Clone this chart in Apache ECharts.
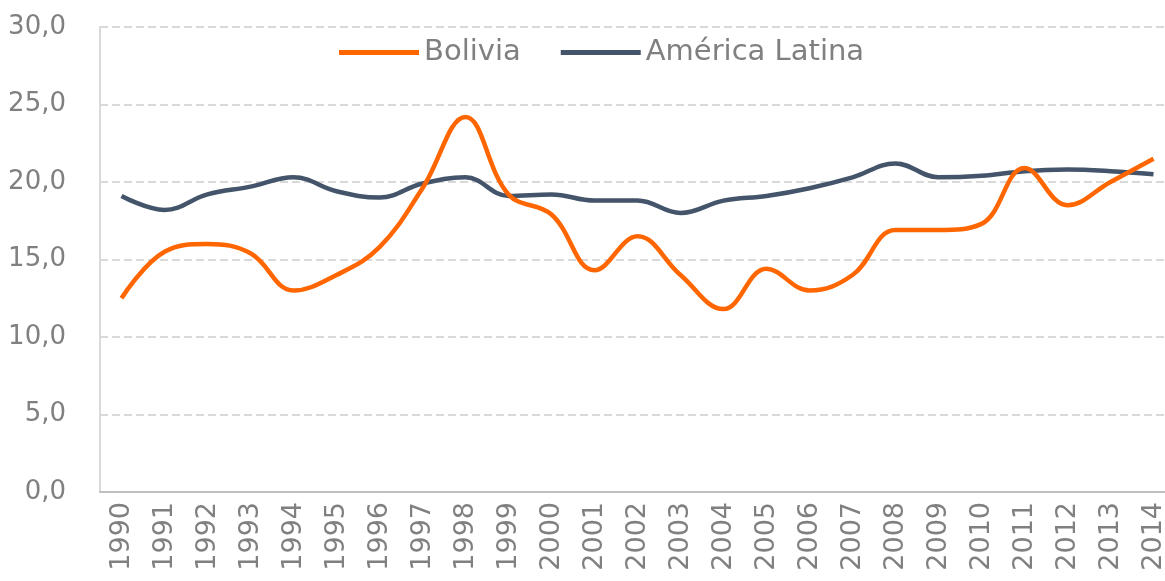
<!DOCTYPE html>
<html>
<head>
<meta charset="utf-8">
<script src="https://cdn.jsdelivr.net/npm/echarts@6/dist/echarts.min.js"></script>
<style>
  html, body { margin: 0; padding: 0; background: #fff; overflow: hidden; }
  #main { width: 1165px; height: 581px; }
</style>
</head>
<body>
<div id="main"></div>
<script>
const years = ['1990', '1991', '1992', '1993', '1994', '1995', '1996', '1997', '1998', '1999',
  '2000', '2001', '2002', '2003', '2004', '2005', '2006', '2007', '2008', '2009',
  '2010', '2011', '2012', '2013', '2014'];
const bolivia = [12.5, 15.5, 16.0, 15.4, 13.0, 14.0, 15.8, 19.6, 24.2, 19.2,
  17.9, 14.3, 16.5, 14.0, 11.8, 14.4, 13.0, 14.0, 16.9, 16.9,
  17.3, 20.9, 18.5, 20.0, 21.5];
const americaLatina = [19.1, 18.2, 19.2, 19.7, 20.3, 19.4, 19.0, 19.9, 20.3, 19.1,
  19.2, 18.8, 18.8, 18.0, 18.8, 19.1, 19.6, 20.3, 21.2, 20.3,
  20.4, 20.7, 20.8, 20.7, 20.5];

const textGray = '#808080';
const myChart = echarts.init(document.getElementById('main'));

const option = {
  animation: false,
  textStyle: { fontFamily: 'DejaVu Sans' },
  legend: {
    left: 334,
    top: 33,
    itemWidth: 80,
    itemHeight: 5,
    itemGap: 40,
    icon: 'rect',
    textStyle: { color: textGray, fontSize: 29 },
    data: ['Bolivia', 'América Latina']
  },
  grid: {
    left: 100,
    right: -10,
    top: 27,
    bottom: 89,
    outerBoundsMode: 'none',
    containLabel: false
  },
  xAxis: {
    type: 'category',
    data: years,
    boundaryGap: true,
    axisLine: { lineStyle: { color: '#bfbfbf', width: 2 } },
    axisTick: { alignWithLabel: true, length: 8, lineStyle: { color: '#bfbfbf', width: 1.5 } },
    axisLabel: { rotate: 90, color: textGray, fontSize: 27, margin: 10, interval: 0 }
  },
  yAxis: {
    type: 'value',
    min: 0,
    max: 30,
    interval: 5,
    axisLine: { show: true, lineStyle: { color: '#d9d9d9', width: 2 } },
    axisTick: { show: false },
    axisLabel: {
      color: textGray,
      fontSize: 26,
      margin: 34,
      formatter: v => v.toFixed(1).replace('.', ',')
    },
    splitLine: { lineStyle: { color: '#d9d9d9', type: [8, 4], width: 2 } }
  },
  series: [
    {
      name: 'Bolivia',
      type: 'line',
      data: bolivia,
      smooth: 0.4,
      symbol: 'none',
      color: '#ff6600',
      lineStyle: { width: 4.5, color: '#ff6600' },
      z: 3
    },
    {
      name: 'América Latina',
      type: 'line',
      data: americaLatina,
      smooth: 0.4,
      symbol: 'none',
      color: '#44546a',
      lineStyle: { width: 4.5, color: '#44546a' },
      z: 2
    }
  ]
};

myChart.setOption(option);
</script>
</body>
</html>
